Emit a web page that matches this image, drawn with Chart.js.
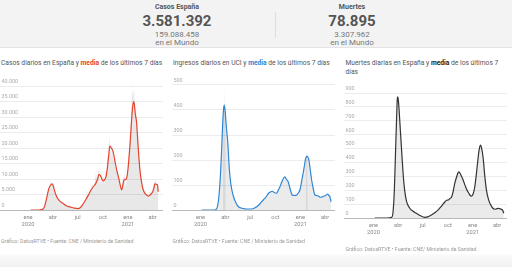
<!DOCTYPE html>
<html lang="es">
<head>
<meta charset="utf-8">
<title>Coronavirus en España</title>
<script src="https://cdn.jsdelivr.net/npm/chart.js@4.4.1/dist/chart.umd.min.js"></script>
<style>
  html, body { margin: 0; padding: 0; }
  body { position: relative; width: 512px; height: 267px; overflow: hidden; background: #fff; font-family: Roboto, "Noto Sans", sans-serif; }
  .abs { position: absolute; white-space: nowrap; }
  #cabecera { position: absolute; left: 0; top: 0; width: 512px; height: 47px; background: #f3f3f3; border-bottom: 1px solid #e4e4e4; }
  #pie { position: absolute; left: 0; top: 254px; width: 512px; height: 13px; background: linear-gradient(#fbfbfb, #f1f1f1); }
  .centro { text-align: center; width: 120px; }
  .etiqueta { font-size: 7px; font-weight: bold; color: #555; line-height: 8px; }
  .cifra { font-size: 15px; font-weight: bold; color: #555; line-height: 16px; }
  .mundo { font-size: 8px; color: #777; line-height: 8px; }
  .titulo { font-size: 6.7px; color: #555; line-height: 9px; }
  .fuente { font-size: 5.2px; color: #999; line-height: 7px; }
  canvas { position: absolute; }
</style>
</head>
<body>
<div id="cabecera">
  <div class="abs centro etiqueta" style="left:117px; top:3px">Casos España</div>
  <div class="abs centro cifra" style="left:117px; top:13px">3.581.392</div>
  <div class="abs centro mundo" style="left:117px; top:31px">159.088.458</div>
  <div class="abs centro mundo" style="left:117px; top:39px">en el Mundo</div>
  <div class="abs" style="left:275px; top:12px; width:1px; height:26px; background:#ddd"></div>
  <div class="abs centro etiqueta" style="left:292px; top:3px">Muertes</div>
  <div class="abs centro cifra" style="left:292px; top:13px">78.895</div>
  <div class="abs centro mundo" style="left:292px; top:31px">3.307.962</div>
  <div class="abs centro mundo" style="left:292px; top:39px">en el Mundo</div>
</div>

<div class="abs titulo" style="left:1px; top:58.5px">Casos diarios en España y <b style="color:#e4432d">media</b> de los últimos 7 días</div>
<div class="abs titulo" style="left:173px; top:58.5px">Ingresos diarios en UCI y <b style="color:#2e86d4">media</b> de los últimos 7 días</div>
<div class="abs titulo" style="left:345.5px; top:58.5px; width:160px; white-space:normal">Muertes diarias en España y <b style="color:#222">media</b> de los últimos 7<br>días</div>

<canvas id="casos" width="163" height="156" style="left:0; top:76px"></canvas>
<canvas id="uci" width="163" height="156" style="left:172px; top:76px"></canvas>
<canvas id="muertes" width="163" height="156" style="left:344px; top:84px"></canvas>

<div class="abs fuente" style="left:1px; top:237.5px">Gráfico: DatosRTVE • Fuente: CNE / Ministerio de Sanidad</div>
<div class="abs fuente" style="left:172.5px; top:237.5px">Gráfico: DatosRTVE • Fuente: CNE / Ministerio de Sanidad</div>
<div class="abs fuente" style="left:345.5px; top:245.5px">Gráfico: DatosRTVE • Fuente: CNE/ Ministerio de Sanidad</div>
<div id="pie"></div>

<script>
// dias contados desde el 1 de enero de 2020
var diasTicks = [0, 91, 182, 274, 366, 456];
var etiquetasTicks = [['ene', '2020'], 'abr', 'jul', 'oct', ['ene', '2021'], 'abr'];

// casos
var casosTicks = [0, 5000, 10000, 15000, 20000, 25000, 30000, 35000, 40000];
var casosDiasMedia = [10, 40, 55, 62, 70, 76, 82, 88, 92, 98, 105, 115, 129, 140, 154, 170, 184, 193, 203, 212, 221, 230, 239, 248, 255, 260, 266, 272, 277, 282, 287, 292, 296, 300, 305, 310, 315, 320, 325, 333, 338, 343, 347, 352, 357, 361, 366, 370, 374, 378, 382, 386, 389, 393, 398, 403, 410, 416, 422, 428, 435, 441, 447, 452, 457, 461, 465, 470, 474, 477];
var casosMedia = [0, 0, 300, 1500, 4500, 6800, 7900, 8400, 7900, 6000, 4300, 3000, 2100, 1400, 1000, 600, 450, 900, 2100, 3400, 4800, 6300, 7500, 8500, 10000, 11500, 11000, 9800, 9400, 10000, 11200, 14500, 18000, 20600, 20000, 19300, 17500, 15000, 12900, 10000, 8000, 6500, 7800, 9700, 9800, 10200, 13000, 17000, 21500, 27000, 32000, 34900, 34500, 31000, 28000, 21000, 12900, 9000, 6500, 5400, 4800, 4500, 4800, 5300, 5900, 7000, 8400, 8300, 8100, 5900];
var casosDiasDiario = [10, 50, 60, 66, 72, 78, 84, 88, 92, 96, 102, 110, 120, 130, 145, 160, 175, 190, 200, 210, 220, 230, 236, 240, 245, 250, 253, 257, 260, 264, 268, 271, 275, 279, 283, 287, 291, 295, 298, 301, 304, 307, 310, 313, 317, 321, 326, 331, 336, 341, 346, 350, 354, 358, 362, 366, 370, 374, 378, 381, 384, 387, 390, 393, 396, 400, 404, 408, 412, 416, 420, 425, 430, 435, 440, 445, 450, 455, 460, 464, 468, 472, 475, 477];
var casosDiario = [0, 100, 1200, 3000, 5500, 7500, 9500, 8000, 8800, 6500, 5000, 3600, 2600, 2000, 1200, 800, 500, 900, 2000, 3500, 5000, 7000, 8500, 6000, 9500, 13000, 8000, 12500, 16500, 7500, 12000, 9000, 11500, 8000, 12500, 12000, 15500, 19000, 24000, 19000, 22500, 17000, 21000, 16000, 18000, 13000, 13500, 9500, 9000, 6000, 9000, 10500, 11500, 7000, 11000, 12000, 19000, 24000, 30000, 38000, 42000, 35000, 39000, 30000, 33000, 26000, 22000, 15000, 13000, 10000, 8000, 6500, 6000, 5200, 4000, 6000, 5500, 6500, 8500, 9000, 10000, 7000, 8500, 5000];

// ingresos en UCI
var uciTicks = [0, 100, 200, 300, 400, 500];
var uciDiasMedia = [4, 50, 59, 66, 72, 77, 81, 85, 87, 90, 94, 100, 104, 108, 114, 121, 130, 139, 155, 170, 188, 198, 206, 218, 230, 240, 249, 256, 263, 270, 279, 285, 291, 297, 303, 309, 313, 317, 321, 328, 336, 344, 352, 358, 364, 368, 372, 376, 381, 385, 389, 393, 397, 402, 407, 413, 419, 425, 431, 437, 443, 449, 455, 460, 465, 470, 474, 478];
var uciMedia = [0, 0, 5, 40, 120, 230, 340, 410, 420, 400, 340, 267, 190, 133, 85, 53, 28, 13, 6, 4, 4, 8, 13, 25, 40, 52, 67, 72, 75, 70, 67, 80, 93, 110, 125, 133, 125, 120, 113, 85, 60, 58, 60, 68, 80, 100, 125, 147, 180, 205, 216, 212, 200, 160, 120, 85, 60, 58, 56, 52, 51, 55, 56, 60, 64, 58, 53, 33];
var uciDiasDiario = [82, 83, 86, 87, 88, 91, 92, 384, 386, 389, 391, 393];
var uciDiario = [0, 380, 420, 495, 420, 390, 0, 0, 200, 232, 212, 0];

// muertes
var muertesTicks = [0, 100, 200, 300, 400, 500, 600, 700, 800, 900];
var muertesDiasMedia = [5, 50, 67, 72, 77, 81, 85, 88, 90, 93, 97, 103, 109, 115, 122, 134, 146, 158, 172, 189, 200, 214, 226, 239, 252, 264, 270, 276, 282, 288, 294, 300, 307, 312, 316, 320, 325, 331, 338, 345, 352, 358, 362, 368, 374, 380, 386, 390, 395, 399, 405, 411, 417, 425, 433, 440, 448, 454, 460, 466, 472, 477, 481];
var muertesMedia = [0, 0, 5, 40, 200, 450, 700, 860, 873, 820, 700, 513, 330, 201, 120, 70, 48, 34, 18, 5, 8, 22, 38, 58, 88, 117, 128, 130, 140, 149, 190, 250, 297, 325, 333, 320, 300, 273, 235, 201, 178, 160, 158, 175, 225, 320, 429, 490, 525, 505, 429, 300, 201, 130, 94, 72, 63, 66, 70, 67, 63, 55, 34];

Chart.defaults.font.family = 'Roboto';

function puntos(dias, valores) {
  return dias.map(function (d, i) { return { x: d, y: valores[i] }; });
}

function miles(v) {
  return String(v).replace(/\B(?=(\d{3})+(?!\d))/g, '.');
}

function grafico(id, o) {
  var datasets = [
    {
      data: puntos(o.diasMedia, o.media),
      borderColor: o.color, borderWidth: 1.2,
      fill: o.rellenar ? 'origin' : false, backgroundColor: o.gris,
      pointRadius: 0, cubicInterpolationMode: 'monotone'
    }
  ];
  if (o.diasDiario) {
    datasets.push({
      data: puntos(o.diasDiario, o.diario),
      borderWidth: 0, fill: 'origin', backgroundColor: o.gris,
      pointRadius: 0, tension: 0
    });
  }
  return new Chart(document.getElementById(id), {
    type: 'line',
    data: { datasets: datasets },
    options: {
      responsive: false,
      animation: false,
      events: [],
      plugins: { legend: { display: false }, tooltip: { enabled: false } },
      scales: {
        x: {
          type: 'linear', min: o.xmin, max: o.xmax,
          afterBuildTicks: function (s) { s.ticks = diasTicks.map(function (v) { return { value: v }; }); },
          afterFit: function (s) { s.height = 22; s.paddingLeft = 0; s.paddingRight = 0; },
          grid: { display: false, drawTicks: false },
          border: { display: true, color: '#b8b8b8', width: 1 },
          ticks: {
            autoSkip: false, maxRotation: 0, padding: 4, color: '#888',
            font: { size: 5.7, lineHeight: 1.25 },
            callback: function (v, i) { return etiquetasTicks[i]; }
          }
        },
        y: {
          min: 0, max: o.ymax,
          afterBuildTicks: function (s) { s.ticks = o.yTicks.map(function (v) { return { value: v }; }); },
          afterFit: function (s) { s.width = 0; s.paddingTop = 0; s.paddingBottom = 0; },
          grid: { color: '#ececec', lineWidth: 1, drawTicks: false },
          border: { display: false },
          ticks: {
            mirror: true, padding: 1.5, labelOffset: -4.5, color: '#aaa',
            font: { size: 5.4 },
            callback: function (v) { return miles(v); }
          }
        }
      }
    }
  });
}

grafico('casos', {
  diasMedia: casosDiasMedia, media: casosMedia,
  diasDiario: casosDiasDiario, diario: casosDiario,
  color: '#e4432d', gris: 'rgba(0,0,0,0.09)', rellenar: false,
  xmin: -102.5, xmax: 494.5, ymax: 43226, yTicks: casosTicks
});

grafico('uci', {
  diasMedia: uciDiasMedia, media: uciMedia,
  diasDiario: uciDiasDiario, diario: uciDiario,
  color: '#2e86d4', gris: 'rgba(0,0,0,0.08)', rellenar: true,
  xmin: -104.4, xmax: 492.6, ymax: 536, yTicks: uciTicks
});

grafico('muertes', {
  diasMedia: muertesDiasMedia, media: muertesMedia,
  color: '#333', gris: 'rgba(0,0,0,0.08)', rellenar: true,
  xmin: -108.9, xmax: 492.9, ymax: 965, yTicks: muertesTicks
});
</script>
</body>
</html>
